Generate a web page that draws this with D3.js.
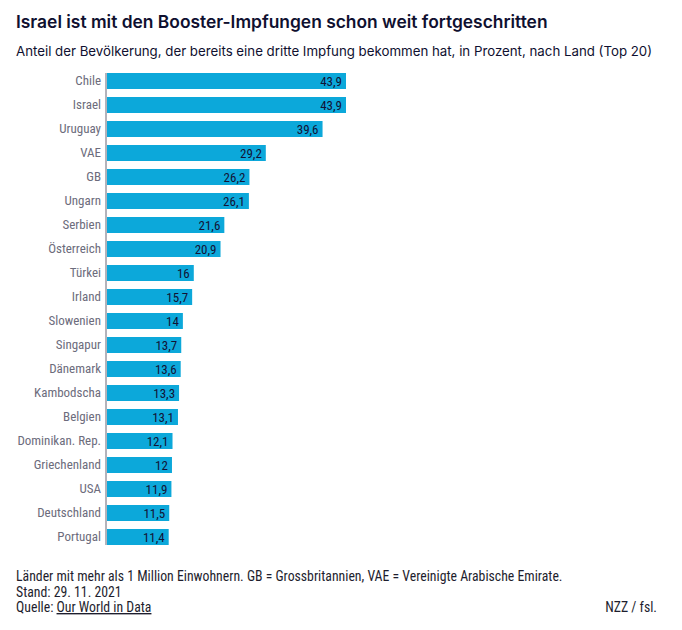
<!DOCTYPE html>
<html>
<head>
<meta charset="utf-8">
<script src="https://cdn.jsdelivr.net/npm/d3@7"></script>
<style>
  html, body { margin: 0; padding: 0; background: #fff; }
  svg { display: block; }
</style>
</head>
<body>
<svg id="chart" width="682" height="630"></svg>
<script>
const countries = ["Chile","Israel","Uruguay","VAE","GB","Ungarn","Serbien","Österreich","Türkei","Irland","Slowenien","Singapur","Dänemark","Kambodscha","Belgien","Dominikan. Rep.","Griechenland","USA","Deutschland","Portugal"];
const values = [43.9,43.9,39.6,29.2,26.2,26.1,21.6,20.9,16,15.7,14,13.7,13.6,13.3,13.1,12.1,12,11.9,11.5,11.4];
const titleText = "Israel ist mit den Booster-Impfungen schon weit fortgeschritten";
const subtitleText = "Anteil der Bevölkerung, der bereits eine dritte Impfung bekommen hat, in Prozent, nach Land (Top 20)";
const noteLines = ["Länder mit mehr als 1 Million Einwohnern. GB = Grossbritannien, VAE = Vereinigte Arabische Emirate.", "Stand: 29. 11. 2021"];
const sourceLabel = "Quelle: ";
const sourceName = "Our World in Data";
const creditText = "NZZ / fsl.";

const data = countries.map((c, i) => ({ country: c, value: values[i] }));

const svg = d3.select("#chart");
const condensed = "'Liberation Sans Narrow', 'Roboto Condensed', 'Arial Narrow', sans-serif";
const sans = "Inter, Roboto, 'Noto Sans', sans-serif";

// shrink/grow font size so a text spans the target width
function fit(sel, base, target) {
  sel.attr("font-size", base);
  const w = sel.node().getComputedTextLength();
  if (w > 0) sel.attr("font-size", base * target / w);
  return sel;
}

const x = d3.scaleLinear().domain([0, 43.9]).range([106.5, 346]);
const y = d3.scaleBand().domain(countries).range([73, 545]).paddingInner(1/3).paddingOuter(0);

// Title
const t = svg.append("text").attr("x", 16).attr("y", 28)
  .attr("font-family", sans).attr("font-weight", 600)
  .attr("fill", "#0f1030").text(titleText);
fit(t, 18, 532);
const st = svg.append("text").attr("x", 16).attr("y", 55.5)
  .attr("font-family", sans)
  .attr("fill", "#0f1030").text(subtitleText);
fit(st, 14, 637);

// Bars
svg.append("g").selectAll("rect").data(data).join("rect")
  .attr("x", x(0)).attr("y", d => y(d.country))
  .attr("width", d => x(d.value) - x(0)).attr("height", y.bandwidth())
  .attr("fill", "#0ca8da");

// Axis (category labels)
const yAxis = d3.axisLeft(y).tickSize(0).tickPadding(5);
const ag = svg.append("g").attr("transform", `translate(${x(0) - 0.5},0)`).call(yAxis);
ag.select(".domain").attr("stroke", "#b3b3bb").attr("stroke-width", 2).attr("d", `M0,${y.range()[0]}V${y.range()[1]}`);
ag.selectAll("text").attr("font-family", condensed).attr("font-size", 13).attr("fill", "#6c6c7c");

// Value labels
const fmt = v => String(v).replace(".", ",");
svg.append("g").selectAll("text").data(data).join("text")
  .attr("x", d => x(d.value) - 4).attr("y", d => y(d.country) + y.bandwidth() / 2)
  .attr("dy", "0.35em").attr("text-anchor", "end")
  .attr("font-family", condensed).attr("font-size", 13).attr("fill", "#121235")
  .text(d => fmt(d.value));

// Footer
const n1 = svg.append("text").attr("x", 16).attr("y", 581)
  .attr("font-family", condensed).attr("fill", "#1e1e2e").text(noteLines[0]);
fit(n1, 13, 547);
const fs = +n1.attr("font-size");
svg.append("text").attr("x", 16).attr("y", 596.5)
  .attr("font-family", condensed).attr("font-size", fs).attr("fill", "#1e1e2e").text(noteLines[1]);
const src = svg.append("text").attr("x", 16).attr("y", 612)
  .attr("font-family", condensed).attr("font-size", fs).attr("fill", "#1e1e2e");
src.append("tspan").text(sourceLabel);
src.append("tspan").attr("text-decoration", "underline").text(sourceName);
svg.append("text").attr("x", 657).attr("y", 612).attr("text-anchor", "end")
  .attr("font-family", condensed).attr("font-size", fs).attr("fill", "#1e1e2e").text(creditText);
</script>
</body>
</html>
